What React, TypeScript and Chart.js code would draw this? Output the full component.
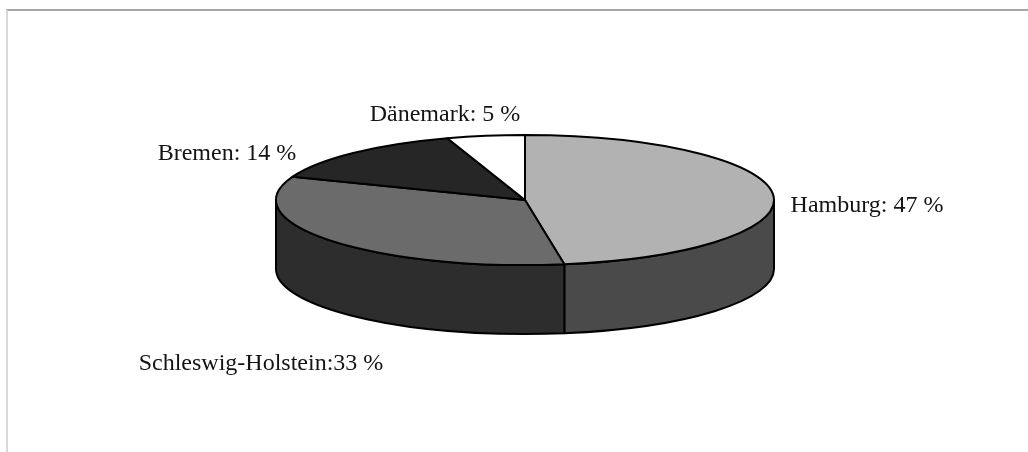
import React, { useEffect, useRef } from "react";
import { Chart, registerables } from "chart.js";

Chart.register(...registerables);

// ---- data ----
const categories = ["Hamburg", "Schleswig-Holstein", "Bremen", "Dänemark"];
const shares = [47, 33, 14, 5];
const labelSeparators = [": ", ":", ": ", ": "];

// ---- styles ----
const topColors = ["#b2b2b2", "#6b6b6b", "#262626", "#ffffff"];
const sideColors = ["#4a4a4a", "#2d2d2d", "#111111", "#9a9a9a"];
const DEPTH_RATIO = 69 / 65;
const LABEL_ANCHORS: [number, number][] = [
  [867, 212],
  [261, 370],
  [227, 160],
  [445, 121],
];

const pie3d = {
  id: "pie3d",
  beforeDatasetsDraw(chart: any) {
    const ctx: CanvasRenderingContext2D = chart.ctx;
    const area = chart.chartArea;
    const meta = chart.getDatasetMeta(0);
    const rx = (area.right - area.left) / 2;
    const ry = (area.bottom - area.top) / 2;
    const depth = ry * DEPTH_RATIO;
    const arcs = meta.data;
    ctx.save();
    ctx.lineWidth = 2;
    ctx.strokeStyle = "#000";
    ctx.lineJoin = "round";

    // side walls (front half only)
    arcs.forEach((arc: any, i: number) => {
      const { x, y, startAngle, endAngle } = arc.getProps(
        ["x", "y", "startAngle", "endAngle"],
        true
      );
      const a0 = Math.max(startAngle, 0);
      const a1 = Math.min(endAngle, Math.PI);
      if (a1 <= a0) return;
      ctx.beginPath();
      ctx.ellipse(x, y, rx, ry, 0, a0, a1, false);
      ctx.lineTo(x + rx * Math.cos(a1), y + depth + ry * Math.sin(a1));
      ctx.ellipse(x, y + depth, rx, ry, 0, a1, a0, true);
      ctx.closePath();
      ctx.fillStyle = sideColors[i];
      ctx.fill();
      ctx.stroke();
    });

    // top faces
    arcs.forEach((arc: any, i: number) => {
      const { x, y, startAngle, endAngle } = arc.getProps(
        ["x", "y", "startAngle", "endAngle"],
        true
      );
      ctx.beginPath();
      ctx.moveTo(x, y);
      ctx.ellipse(x, y, rx, ry, 0, startAngle, endAngle, false);
      ctx.closePath();
      ctx.fillStyle = topColors[i];
      ctx.fill();
      ctx.stroke();
    });

    // labels
    ctx.font = '24px "Liberation Serif"';
    ctx.textAlign = "center";
    ctx.textBaseline = "alphabetic";
    ctx.fillStyle = "#141414";
    const values = chart.data.datasets[0].data;
    chart.data.labels.forEach((lab: string, i: number) => {
      const [lx, ly] = LABEL_ANCHORS[i];
      ctx.fillText(`${lab}${labelSeparators[i]}${values[i]} %`, lx, ly);
    });

    ctx.restore();
    return false;
  },
};

export default function App() {
  const ref = useRef<HTMLCanvasElement>(null);
  useEffect(() => {
    if (!ref.current) return;
    const chart = new Chart(ref.current, {
      type: "pie",
      data: {
        labels: categories,
        datasets: [
          {
            data: shares,
            backgroundColor: topColors,
            borderWidth: 0,
          },
        ],
      },
      options: {
        responsive: false,
        animation: false,
        layout: { padding: { left: 276, right: 254, top: 135, bottom: 187 } },
        plugins: { legend: { display: false }, tooltip: { enabled: false } },
      },
      plugins: [pie3d],
    });
    return () => chart.destroy();
  }, []);

  return (
    <div
      style={{
        position: "absolute",
        left: 0,
        top: 0,
        width: 1028,
        height: 452,
        overflow: "hidden",
        background: "#fff",
      }}
    >
      <div
        style={{
          position: "absolute",
          left: 6,
          top: 9,
          width: 1022,
          height: 443,
          boxSizing: "border-box",
          borderTop: "2px solid #a8a8a8",
          borderLeft: "2px solid #d8d8d8",
        }}
      />
      <canvas
        ref={ref}
        width={1028}
        height={452}
        style={{ position: "absolute", left: 0, top: 0 }}
      />
    </div>
  );
}
